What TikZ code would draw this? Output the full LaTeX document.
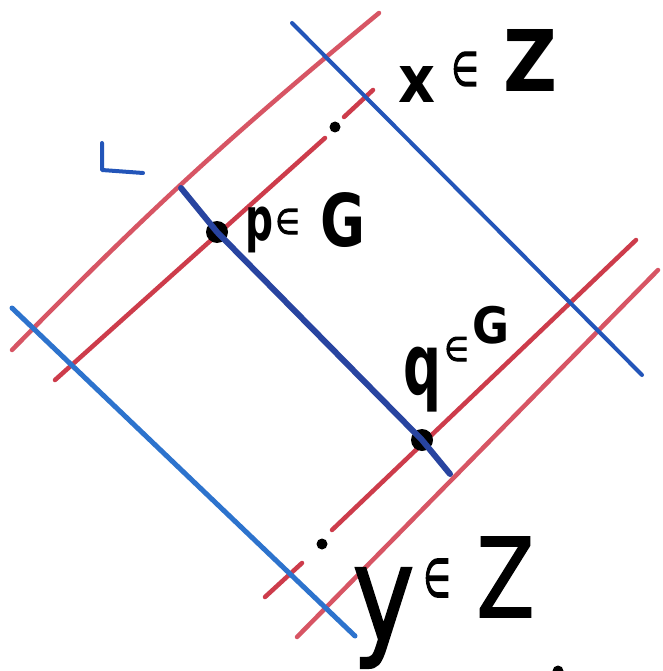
\documentclass[tikz,border=0pt]{standalone}
\usepackage{fontspec}
\usepackage{graphicx}
\setmainfont{DejaVu Sans}
\newfontfamily\hwsemi{DejaVu Sans}[FakeBold=1.6]
\newfontfamily\hwin{DejaVu Sans}[FakeBold=3]
\definecolor{mred}{RGB}{205,60,75}
\definecolor{mpink}{RGB}{215,85,100}
\definecolor{mblue}{RGB}{35,85,185}
\definecolor{mdblue}{RGB}{40,68,160}
\definecolor{mlblue}{RGB}{45,115,205}
% glyph placed at offset (#1,#2) from label origin, scaled to #3 x #4
\newcommand{\hwg}[5]{\rlap{\hspace*{#1pt}\raisebox{#2pt}{\resizebox*{#3pt}{#4pt}{\raisebox{\depth}{#5}}}}}
\tikzset{
  redline/.style={draw=mred, line width=4.5pt, line cap=round, line join=round},
  pinkline/.style={draw=mpink, line width=4.5pt, line cap=round, line join=round},
  blueline/.style={draw=mblue, line width=4pt, line cap=round, line join=round},
  thickblue/.style={draw=mdblue, line width=6pt, line cap=round, line join=round},
  leftblue/.style={draw=mlblue, line width=5pt, line cap=round, line join=round},
  bigdot/.style={circle, fill=black, inner sep=0pt, minimum size=22pt},
  smalldot/.style={circle, fill=black, inner sep=0pt, minimum size=11pt},
  hwlabel/.style={anchor=base west, inner sep=0pt, outer sep=0pt, text=black}
}
\begin{document}
\begin{tikzpicture}[x=1pt, y=-1pt]
\useasboundingbox (0,0) rectangle (662,671);
\fill[white] (0,0) rectangle (662,671);

% endpoints
\coordinate (r1a) at (12,350);
\coordinate (r1b) at (379,13);
\coordinate (r2a) at (55,380);
\coordinate (r2b) at (325,138);
\coordinate (r2c) at (344,117);
\coordinate (r2d) at (373,90);
\coordinate (r3a) at (332,530);
\coordinate (r3b) at (636,240);
\coordinate (r3c) at (265,597);
\coordinate (r3d) at (302,563);
\coordinate (r4a) at (297,637);
\coordinate (r4b) at (658,270);
\coordinate (b1a) at (292,23);
\coordinate (b1b) at (642,375);
\coordinate (b2a) at (181,188);
\coordinate (b2b) at (450,474);
\coordinate (b3a) at (12,308);
\coordinate (b3b) at (355,636);
\coordinate (la) at (102,143);
\coordinate (lb) at (102,170);
\coordinate (lc) at (143,173);

% red lines
\draw[pinkline] (r1a) to[bend left=3] (r1b);
\draw[redline] (r2a) -- (r2b);
\draw[redline] (r2c) -- (r2d);
\draw[redline] (r3a) -- (r3b);
\draw[redline] (r3c) -- (r3d);
\draw[pinkline] (r4a) -- (r4b);

% dots
\node[bigdot] (P) at (217,232) {};
\node[bigdot] (Q) at (422,440) {};
\node[smalldot] (d1) at (335,127) {};
\node[smalldot] (d2) at (322,544) {};
\node[smalldot] (d3) at (558,671) {};

% blue lines
\draw[blueline] (b1a) -- (b1b);
\draw[thickblue] (b2a) -- (P.center) -- (Q.center) -- (b2b);
\draw[leftblue] (b3a) -- (b3b);
\draw[draw=mblue, line width=4pt, line cap=round, line join=round] (la) -- (lb) -- (lc);

% labels
\node[hwlabel] (xlab) at (398,103) {\hwg{0}{0}{37}{36}{\bfseries x}\hwg{53}{17}{27}{34}{\hwin ∈}\hwg{105}{11}{54}{62}{\bfseries Z}};
\node[hwlabel] (plab) at (245,253) {\hwg{0}{0}{28}{46}{\bfseries p}\hwg{30}{19}{24}{25}{\hwin ∈}\hwg{75}{5}{45}{55}{\bfseries G}};
\node[hwlabel] (qlab) at (403,412) {\hwg{0}{0}{38}{65}{\bfseries q}\hwg{41}{51}{24}{24}{\hwin ∈}\hwg{69}{68}{37}{38}{\bfseries G}};
\node[hwlabel] (ylab) at (352,668) {\hwg{0}{0}{62}{100}{\hwsemi y}\hwg{71}{71}{27}{38}{\hwin ∈}\hwg{124}{51}{58}{80}{\hwsemi Z}};
\end{tikzpicture}
\end{document}
